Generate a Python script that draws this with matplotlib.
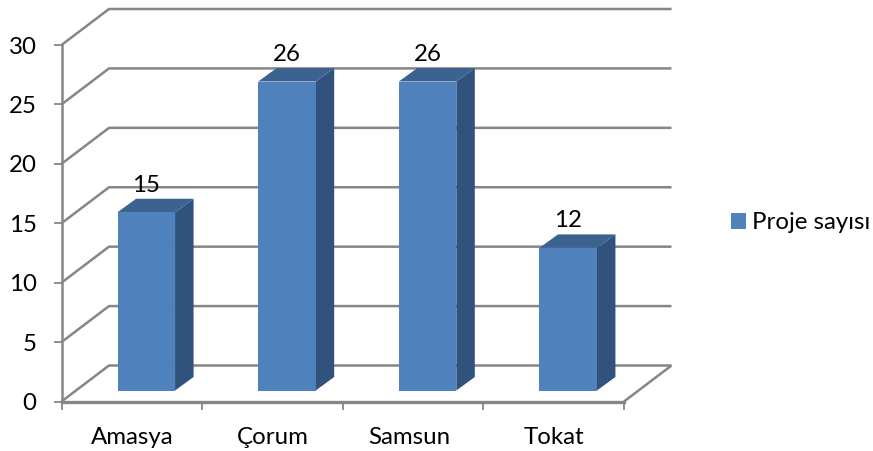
import matplotlib
matplotlib.use("Agg")
import matplotlib.pyplot as plt
from matplotlib.transforms import Affine2D

categories = ["Amasya", "Çorum", "Samsun", "Tokat"]
values = [15, 26, 26, 12]
y_ticks = [0, 5, 10, 15, 20, 25, 30]
series_name = "Proje sayısı"

plt.rcParams["font.family"] = ["Lato", "DejaVu Sans"]
W, H = 873, 451
GREY = "#868686"
FRONT, SIDE, TOP = "#4f81bd", "#30527c", "#3c6290"
FS = 17.3

fig = plt.figure(figsize=(W / 100, H / 100), dpi=100)
L, R, B, T = 61.5, 624.0, 401.5, 45.0
ax = fig.add_axes([L / W, 1 - B / H, (R - L) / W, (B - T) / H])
n = len(categories)
ax.set_xlim(0, n)
ax.set_ylim(0, y_ticks[-1])

# pixel-per-unit factors turn the oblique 3D offsets into data units
ux = (R - L) / n
uy = (B - T) / y_ticks[-1]
wall_dx, wall_dy = 47.5 / ux, 36 / uy
bar_dx, bar_dy = 14.5 / ux, 11 / uy
depth_dx, depth_dy = 18.5 / ux, 13.5 / uy
bar_w = 57.5 / ux
line = dict(color=GREY, lw=1.8, clip_on=False, solid_capstyle="butt", zorder=1)

# back wall grid lines and their left-wall diagonals
for t in y_ticks:
    ax.plot([0, wall_dx, n + wall_dx], [t, t + wall_dy, t + wall_dy], **line)
# floor right edge
ax.plot([n, n + wall_dx], [0, wall_dy], **line)

# bars: side, top, then front face
for i, v in enumerate(values):
    x0 = i + 0.5 + bar_dx - bar_w / 2
    x1 = x0 + bar_w
    y0, y1 = bar_dy, v + bar_dy
    ax.fill([x1, x1 + depth_dx, x1 + depth_dx, x1],
            [y0, y0 + depth_dy, y1 + depth_dy, y1],
            color=SIDE, lw=0, clip_on=False, zorder=3)
    ax.fill([x0, x0 + depth_dx, x1 + depth_dx, x1],
            [y1, y1 + depth_dy, y1 + depth_dy, y1],
            color=TOP, lw=0, clip_on=False, zorder=3)
bars = ax.bar([i + 0.5 + bar_dx for i in range(n)], values, width=bar_w,
              bottom=bar_dy, color=FRONT, lw=0, zorder=4, clip_on=False,
              label=series_name)
for i, v in enumerate(values):
    ax.text(i + 0.5 + bar_dx, v + bar_dy + 27 / uy, str(v), ha="center",
            va="center", fontsize=FS, color="black", zorder=5)

# axes
for s in ("top", "right"):
    ax.spines[s].set_visible(False)
ax.spines["left"].set_color(GREY)
ax.spines["left"].set_linewidth(1.8)
ax.spines["bottom"].set_color(GREY)
ax.spines["bottom"].set_linewidth(2.4)
ax.spines["left"].set_zorder(2)
ax.spines["bottom"].set_zorder(2)
ax.set_yticks(y_ticks)
ax.set_xticks(range(n + 1))
ax.set_xticklabels([])
ax.set_xticks([i + 0.5 for i in range(n)], minor=True)
ax.set_xticklabels(categories, minor=True)
ax.tick_params(axis="x", which="minor", length=0, pad=18, labelsize=FS)
ax.tick_params(axis="x", which="major", length=6, width=1.3, color=GREY)
ax.tick_params(axis="y", length=6, width=1.3, color=GREY, pad=12, labelsize=FS)
ax.patch.set_visible(False)

# "Samsun" sits slightly left of its slot in the reference
lab = ax.get_xticklabels(minor=True)[2]
lab.set_transform(lab.get_transform() + Affine2D().translate(-4, 0))

fig.legend(handles=[bars], labels=[series_name], loc="center left",
           bbox_to_anchor=(731 / W, 1 - 223 / H), frameon=False, fontsize=FS,
           handlelength=0.62, handleheight=0.62, handletextpad=0.25,
           borderpad=0, borderaxespad=0)

fig.savefig("out.png", dpi=100, facecolor="white")
